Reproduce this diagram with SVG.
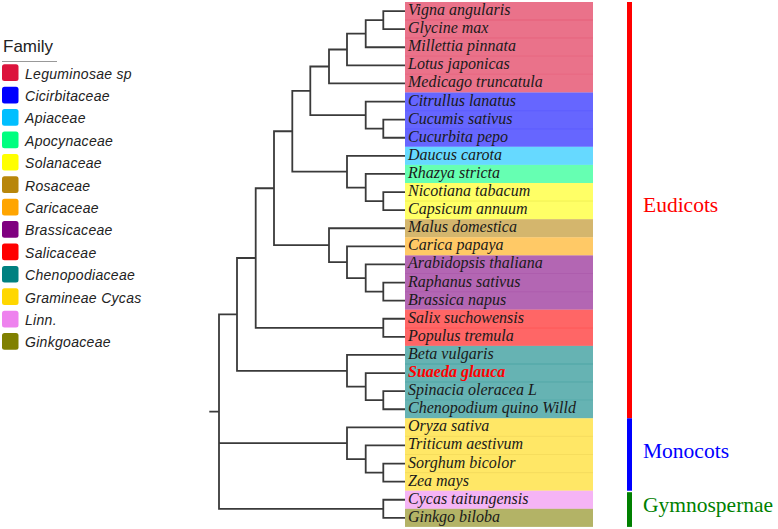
<svg xmlns="http://www.w3.org/2000/svg" width="778" height="529" viewBox="0 0 778 529">
<style>
.leg{font-family:"Liberation Sans",Arial,sans-serif;font-style:italic;font-size:14px;fill:#222;letter-spacing:0.3px}
.sp{font-family:"Liberation Serif","Times New Roman",serif;font-style:italic;font-size:16px;fill:#1a1a1a}
.row{fill-opacity:0.6}
.sep{stroke-opacity:0.25;stroke-width:1}
.tree path{fill:none;stroke:#3a3a3a;stroke-width:1.8}
.clade{font-family:"Liberation Serif","Times New Roman",serif;font-size:21.5px}
</style>
<rect width="778" height="529" fill="#fff"/>
<g id="legend">
<text x="3" y="52" font-family="Liberation Sans, Arial, sans-serif" font-size="17" fill="#222">Family</text>
<line x1="2" y1="61.5" x2="57" y2="61.5" stroke="#999" stroke-width="1"/>
<rect x="2" y="64.3" width="16.5" height="16.7" rx="2.5" fill="#DC143C"/><text class="leg" x="25" y="78.6">Leguminosae sp</text>
<rect x="2" y="86.7" width="16.5" height="16.7" rx="2.5" fill="#0000FF"/><text class="leg" x="25" y="101">Cicirbitaceae</text>
<rect x="2" y="109.1" width="16.5" height="16.7" rx="2.5" fill="#00BFFF"/><text class="leg" x="25" y="123.4">Apiaceae</text>
<rect x="2" y="131.5" width="16.5" height="16.7" rx="2.5" fill="#00FF7F"/><text class="leg" x="25" y="145.8">Apocynaceae</text>
<rect x="2" y="153.9" width="16.5" height="16.7" rx="2.5" fill="#FFFF00"/><text class="leg" x="25" y="168.2">Solanaceae</text>
<rect x="2" y="176.3" width="16.5" height="16.7" rx="2.5" fill="#B8860B"/><text class="leg" x="25" y="190.6">Rosaceae</text>
<rect x="2" y="198.7" width="16.5" height="16.7" rx="2.5" fill="#FFA500"/><text class="leg" x="25" y="213">Caricaceae</text>
<rect x="2" y="221.1" width="16.5" height="16.7" rx="2.5" fill="#800080"/><text class="leg" x="25" y="235.4">Brassicaceae</text>
<rect x="2" y="243.5" width="16.5" height="16.7" rx="2.5" fill="#FF0000"/><text class="leg" x="25" y="257.8">Salicaceae</text>
<rect x="2" y="265.9" width="16.5" height="16.7" rx="2.5" fill="#008080"/><text class="leg" x="25" y="280.2">Chenopodiaceae</text>
<rect x="2" y="288.3" width="16.5" height="16.7" rx="2.5" fill="#FFD700"/><text class="leg" x="25" y="302.6">Gramineae Cycas</text>
<rect x="2" y="310.7" width="16.5" height="16.7" rx="2.5" fill="#EE82EE"/><text class="leg" x="25" y="325">Linn.</text>
<rect x="2" y="333.1" width="16.5" height="16.7" rx="2.5" fill="#808000"/><text class="leg" x="25" y="347.4">Ginkgoaceae</text>
</g>
<g id="connectors" class="tree">
<path d="M405 11.05H383.3V29.15H405"/>
<path d="M383.3 20.1H365.7V47.25H405"/>
<path d="M365.7 33.68H347V65.35H405"/>
<path d="M347 49.51H329V83.45H405"/>
<path d="M405 119.65H383.3V137.75H405"/>
<path d="M405 101.55H365.7V128.7H383.3"/>
<path d="M329 66.48H310.3V115.13H365.7"/>
<path d="M405 192.05H383.3V210.15H405"/>
<path d="M405 173.95H365.7V201.1H383.3"/>
<path d="M405 155.85H347V187.53H365.7"/>
<path d="M310.3 90.8H292.3V171.69H347"/>
<path d="M405 282.55H383.3V300.65H405"/>
<path d="M405 264.45H365.7V291.6H383.3"/>
<path d="M405 246.35H347V278.03H365.7"/>
<path d="M405 228.25H329V262.19H347"/>
<path d="M292.3 131.25H274V245.22H329"/>
<path d="M405 318.75H383.3V336.85H405"/>
<path d="M274 188.23H255.7V327.8H383.3"/>
<path d="M405 391.15H383.3V409.25H405"/>
<path d="M405 373.05H365.7V400.2H383.3"/>
<path d="M405 354.95H347V386.63H365.7"/>
<path d="M255.7 258.02H237V370.79H347"/>
<path d="M405 463.55H383.3V481.65H405"/>
<path d="M405 445.45H365.7V472.6H383.3"/>
<path d="M405 427.35H347V459.03H365.7"/>
<path d="M405 499.75H383.3V517.85H405"/>
<path d="M237 314.4H219V508.8H383.3M219 443.19H347M209.3 411.6H219"/>
</g>
<g id="leaves">
<g id="vigna"><rect class="row" x="405" y="2" width="188" height="18.1" fill="#DC143C"/><text class="sp" x="408" y="15">Vigna angularis</text></g>
<g id="glycine"><rect class="row" x="405" y="20.1" width="188" height="18.1" fill="#DC143C"/><text class="sp" x="408" y="33.1">Glycine max</text></g>
<g id="millettia"><rect class="row" x="405" y="38.2" width="188" height="18.1" fill="#DC143C"/><text class="sp" x="408" y="51.2">Millettia pinnata</text></g>
<g id="lotus"><rect class="row" x="405" y="56.3" width="188" height="18.1" fill="#DC143C"/><text class="sp" x="408" y="69.3">Lotus japonicas</text></g>
<g id="medicago"><rect class="row" x="405" y="74.4" width="188" height="18.1" fill="#DC143C"/><text class="sp" x="408" y="87.4">Medicago truncatula</text></g>
<g id="citrullus"><rect class="row" x="405" y="92.5" width="188" height="18.1" fill="#0000FF"/><text class="sp" x="408" y="105.5">Citrullus lanatus</text></g>
<g id="cucumis"><rect class="row" x="405" y="110.6" width="188" height="18.1" fill="#0000FF"/><text class="sp" x="408" y="123.6">Cucumis sativus</text></g>
<g id="cucurbita"><rect class="row" x="405" y="128.7" width="188" height="18.1" fill="#0000FF"/><text class="sp" x="408" y="141.7">Cucurbita pepo</text></g>
<g id="daucus"><rect class="row" x="405" y="146.8" width="188" height="18.1" fill="#00BFFF"/><text class="sp" x="408" y="159.8">Daucus carota</text></g>
<g id="rhazya"><rect class="row" x="405" y="164.9" width="188" height="18.1" fill="#00FF7F"/><text class="sp" x="408" y="177.9">Rhazya stricta</text></g>
<g id="nicotiana"><rect class="row" x="405" y="183" width="188" height="18.1" fill="#FFFF00"/><text class="sp" x="408" y="196">Nicotiana tabacum</text></g>
<g id="capsicum"><rect class="row" x="405" y="201.1" width="188" height="18.1" fill="#FFFF00"/><text class="sp" x="408" y="214.1">Capsicum annuum</text></g>
<g id="malus"><rect class="row" x="405" y="219.2" width="188" height="18.1" fill="#B8860B"/><text class="sp" x="408" y="232.2">Malus domestica</text></g>
<g id="carica"><rect class="row" x="405" y="237.3" width="188" height="18.1" fill="#FFA500"/><text class="sp" x="408" y="250.3">Carica papaya</text></g>
<g id="arabidopsis"><rect class="row" x="405" y="255.4" width="188" height="18.1" fill="#800080"/><text class="sp" x="408" y="268.4">Arabidopsis thaliana</text></g>
<g id="raphanus"><rect class="row" x="405" y="273.5" width="188" height="18.1" fill="#800080"/><text class="sp" x="408" y="286.5">Raphanus sativus</text></g>
<g id="brassica"><rect class="row" x="405" y="291.6" width="188" height="18.1" fill="#800080"/><text class="sp" x="408" y="304.6">Brassica napus</text></g>
<g id="salix"><rect class="row" x="405" y="309.7" width="188" height="18.1" fill="#FF0000"/><text class="sp" x="408" y="322.7">Salix suchowensis</text></g>
<g id="populus"><rect class="row" x="405" y="327.8" width="188" height="18.1" fill="#FF0000"/><text class="sp" x="408" y="340.8">Populus tremula</text></g>
<g id="beta"><rect class="row" x="405" y="345.9" width="188" height="18.1" fill="#008080"/><text class="sp" x="408" y="358.9">Beta vulgaris</text></g>
<g id="suaeda"><rect class="row" x="405" y="364" width="188" height="18.1" fill="#008080"/><text class="sp" x="408" y="377" font-weight="bold" fill="#FF0000" style="fill:#FF0000">Suaeda glauca</text></g>
<g id="spinacia"><rect class="row" x="405" y="382.1" width="188" height="18.1" fill="#008080"/><text class="sp" x="408" y="395.1">Spinacia oleracea L</text></g>
<g id="chenopodium"><rect class="row" x="405" y="400.2" width="188" height="18.1" fill="#008080"/><text class="sp" x="408" y="413.2">Chenopodium quino Willd</text></g>
<g id="oryza"><rect class="row" x="405" y="418.3" width="188" height="18.1" fill="#FFD700"/><text class="sp" x="408" y="431.3">Oryza sativa</text></g>
<g id="triticum"><rect class="row" x="405" y="436.4" width="188" height="18.1" fill="#FFD700"/><text class="sp" x="408" y="449.4">Triticum aestivum</text></g>
<g id="sorghum"><rect class="row" x="405" y="454.5" width="188" height="18.1" fill="#FFD700"/><text class="sp" x="408" y="467.5">Sorghum bicolor</text></g>
<g id="zea"><rect class="row" x="405" y="472.6" width="188" height="18.1" fill="#FFD700"/><text class="sp" x="408" y="485.6">Zea mays</text></g>
<g id="cycas"><rect class="row" x="405" y="490.7" width="188" height="18.1" fill="#EE82EE"/><text class="sp" x="408" y="503.7">Cycas taitungensis</text></g>
<g id="ginkgo"><rect class="row" x="405" y="508.8" width="188" height="18.1" fill="#808000"/><text class="sp" x="408" y="521.8">Ginkgo biloba</text></g>
</g>
<g id="separators" class="sep">
<line x1="405" x2="593" y1="20.1" y2="20.1" stroke="#DC143C"/>
<line x1="405" x2="593" y1="38.2" y2="38.2" stroke="#DC143C"/>
<line x1="405" x2="593" y1="56.3" y2="56.3" stroke="#DC143C"/>
<line x1="405" x2="593" y1="74.4" y2="74.4" stroke="#DC143C"/>
<line x1="405" x2="593" y1="110.6" y2="110.6" stroke="#0000FF"/>
<line x1="405" x2="593" y1="128.7" y2="128.7" stroke="#0000FF"/>
<line x1="405" x2="593" y1="201.1" y2="201.1" stroke="#CCCC00"/>
<line x1="405" x2="593" y1="273.5" y2="273.5" stroke="#800080"/>
<line x1="405" x2="593" y1="291.6" y2="291.6" stroke="#800080"/>
<line x1="405" x2="593" y1="327.8" y2="327.8" stroke="#FF0000"/>
<line x1="405" x2="593" y1="364" y2="364" stroke="#008080"/>
<line x1="405" x2="593" y1="382.1" y2="382.1" stroke="#008080"/>
<line x1="405" x2="593" y1="400.2" y2="400.2" stroke="#008080"/>
<line x1="405" x2="593" y1="436.4" y2="436.4" stroke="#DDB800"/>
<line x1="405" x2="593" y1="454.5" y2="454.5" stroke="#DDB800"/>
<line x1="405" x2="593" y1="472.6" y2="472.6" stroke="#DDB800"/>
</g>
<g id="clades">
<g id="eudicots"><rect x="627" y="2" width="5" height="416.3" fill="#FF0000"/><text class="clade" x="643" y="212.3" fill="#FF0000">Eudicots</text></g>
<g id="monocots"><rect x="627" y="418.3" width="5" height="72.4" fill="#0000FF"/><text class="clade" x="643" y="458.3" fill="#0000FF">Monocots</text></g>
<g id="gymnospernae"><rect x="627" y="492.2" width="5" height="34.7" fill="#008000"/><text class="clade" x="643" y="511.7" fill="#008000">Gymnospernae</text></g>
</g>
</svg>
